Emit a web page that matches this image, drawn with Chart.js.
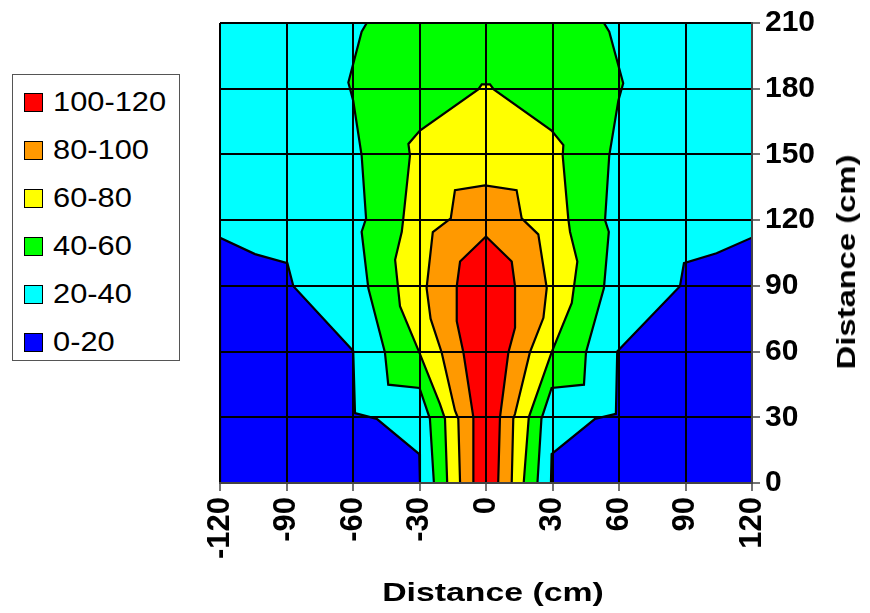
<!DOCTYPE html>
<html>
<head>
<meta charset="utf-8">
<script src="https://cdn.jsdelivr.net/npm/chart.js@4/dist/chart.umd.min.js"></script>
<style>
  html, body { margin: 0; padding: 0; background: #ffffff; }
  #wrap { position: relative; width: 870px; height: 613px; overflow: hidden; }
  #c { position: absolute; left: 0; top: 0; }
  #legend { position: absolute; left: 12px; top: 74px; width: 168px; height: 287px;
            border: 1px solid #555; box-sizing: border-box; background: #fff; }
  .row { position: absolute; left: 0; height: 30px; width: 100%; }
  .sw { position: absolute; left: 11px; top: 6px; width: 17px; height: 17px; border: 1px solid #000; }
  .lt { position: absolute; left: 40px; top: 0; font-family: "Liberation Sans", Arial, sans-serif;
        font-size: 28px; line-height: 30px; color: #000; white-space: nowrap;
        transform-origin: 0 50%; transform: scaleX(1.1); }
  .title { position: absolute; font-family: "Liberation Sans", Arial, sans-serif; font-weight: bold;
           font-size: 26px; line-height: 30px; color: #000; white-space: nowrap; }
</style>
</head>
<body>
<div id="wrap">
  <canvas id="c" width="870" height="613"></canvas>
  <div id="legend"></div>
  <div id="xtitle" class="title"></div>
  <div id="ytitle" class="title"></div>
</div>
<script>
// ---- data ----
const levelLabels = ['100-120', '80-100', '60-80', '40-60', '20-40', '0-20'];
const levelColors = ['#FF0000', '#FF9900', '#FFFF00', '#00FF00', '#00FFFF', '#0000FF'];
const xTicks = [-120, -90, -60, -30, 0, 30, 60, 90, 120];
const yTicks = [0, 30, 60, 90, 120, 150, 180, 210];
const xTitle = 'Distance (cm)';
const yTitle = 'Distance (cm)';

// contour boundaries [x, y] in cm
const band20to40 = [[-120, 0], [-120, 210], [120, 210], [120, 0]];
const band0to20Left = [[-120, 0], [-120, 112], [-104.2, 104.5], [-89.6, 100.4], [-86.9, 89.8],
  [-59.9, 60.3], [-59.1, 31.9], [-49.3, 29.3], [-30.1, 13.2], [-29.8, 0]];
const band0to20Right = [[120, 0], [120, 112], [104, 104.9], [89.3, 100.4], [87.5, 89.8],
  [59.2, 60], [58.6, 31.6], [49.2, 29.3], [29.6, 13.2], [29.3, 0]];
const band40to60 = [[-23.5, 0], [-25.3, 29.3], [-30, 43.4], [-44.1, 44.9], [-45.6, 59.6],
  [-53.1, 89], [-56.1, 114.7], [-54.1, 120.8], [-56.1, 149.5], [-59.9, 174.5], [-62.1, 182.8],
  [-56.1, 206], [-53.8, 210], [53.2, 210], [55.6, 206], [61.9, 182.5], [59.7, 174.5],
  [55.6, 149.5], [53.7, 120], [55.4, 114.7], [53.2, 89], [45.1, 59.6], [44.2, 44.9],
  [29.6, 43.4], [25, 29.3], [23.2, 0]];
const band60to80 = [[-17.5, 0], [-18.5, 29.3], [-20.8, 36.1], [-30.1, 59.6], [-38.8, 80.7],
  [-41, 101.9], [-38, 114.7], [-37.3, 120.8], [-34.3, 149.5], [-35, 154.8], [-29.8, 160.9],
  [-3.5, 179.7], [-1.9, 182], [1.8, 182], [3.5, 179.7], [29.6, 160.9], [34.9, 154.3],
  [34.6, 149.5], [37.1, 120.8], [37.9, 114.7], [41.2, 101.1], [38.7, 82.2], [29.6, 59.6],
  [19.3, 30], [17, 0]];
const band80to100 = [[-11.7, 0], [-12.5, 29.3], [-14, 33.1], [-20, 59.6], [-25, 75],
  [-26.8, 89], [-24, 114.5], [-15.9, 120.8], [-14, 133.7], [-0.5, 135.9], [13.8, 133.7],
  [16.1, 120.8], [23.6, 113.5], [27.4, 89], [25.9, 75.4], [19.8, 59.6], [13.1, 31.6],
  [12.3, 29.3], [11.6, 0]];
const band100to120 = [[-5.7, 0], [-5.7, 30], [-10.2, 59.6], [-13.2, 73.9], [-13.2, 89.8],
  [-11.7, 101.1], [0, 112.5], [11.6, 101.1], [13.1, 89.8], [13.1, 70.9], [10.1, 59.6],
  [6.3, 30], [5.5, 0]];

// ---- build ----
function poly(pts, color, order, bw) {
  const closed = pts.concat([pts[0]]).map(p => ({x: p[0], y: p[1]}));
  return {
    data: closed, showLine: true, fill: 'shape', backgroundColor: color,
    borderColor: '#000000', borderWidth: bw, pointRadius: 0, pointHoverRadius: 0,
    tension: 0, order: order, clip: 0
  };
}

const datasets = [
  poly(band100to120, levelColors[0], 0, 2.2),
  poly(band80to100, levelColors[1], 1, 2.2),
  poly(band60to80, levelColors[2], 2, 2.2),
  poly(band40to60, levelColors[3], 3, 2.2),
  poly(band0to20Left, levelColors[5], 4, 2.2),
  poly(band0to20Right, levelColors[5], 4, 2.2),
  poly(band20to40, levelColors[4], 5, 0)
];

const tickFontX = {family: '"Liberation Sans", Arial, sans-serif', size: 31, weight: 'bold'};
const tickFontY = {family: '"Liberation Sans", Arial, sans-serif', size: 30, weight: 'bold'};

new Chart(document.getElementById('c'), {
  type: 'scatter',
  data: {datasets},
  options: {
    responsive: false,
    animation: false,
    events: [],
    layout: {padding: {left: 220, top: 20, right: 0, bottom: 0}},
    plugins: {legend: {display: false}, tooltip: {enabled: false}},
    scales: {
      x: {
        type: 'linear', min: -120, max: 120,
        afterBuildTicks: s => { s.ticks = xTicks.map(v => ({value: v})); },
        afterFit: s => { s.height = 130; },
        ticks: {
          minRotation: 90, maxRotation: 90, autoSkip: false, padding: 6,
          color: '#000', font: tickFontX,
          callback: v => String(v)
        },
        grid: {color: '#000000', lineWidth: 2, drawTicks: true, tickLength: 8,
               tickColor: '#444', tickWidth: 1.5, z: 1},
        border: {display: true, color: '#444', width: 2, z: 2}
      },
      y: {
        type: 'linear', position: 'right', min: 0, max: 210,
        afterBuildTicks: s => { s.ticks = yTicks.map(v => ({value: v})); },
        afterFit: s => { s.width = 118; },
        ticks: {padding: 5, color: '#000', font: tickFontY, callback: v => String(v)},
        grid: {color: '#000000', lineWidth: 2, drawTicks: true, tickLength: 8,
               tickColor: '#444', tickWidth: 1.5, z: 1},
        border: {display: true, color: '#444', width: 2, z: 2}
      }
    }
  }
});

// legend
const lg = document.getElementById('legend');
levelLabels.forEach((lab, i) => {
  const r = document.createElement('div');
  r.className = 'row';
  r.style.top = (12 + i * 48) + 'px';
  const sw = document.createElement('div');
  sw.className = 'sw';
  sw.style.background = levelColors[i];
  const t = document.createElement('div');
  t.className = 'lt';
  t.textContent = lab;
  r.appendChild(sw); r.appendChild(t); lg.appendChild(r);
});

// axis titles
const xt = document.getElementById('xtitle');
xt.textContent = xTitle;
xt.style.left = '493px'; xt.style.top = '592px';
xt.style.transform = 'translate(-50%, -50%) scaleX(1.3)';
const yt = document.getElementById('ytitle');
yt.textContent = yTitle;
yt.style.left = '846px'; yt.style.top = '262px';
yt.style.transform = 'translate(-50%, -50%) rotate(-90deg) scaleX(1.26)';
</script>
</body>
</html>
